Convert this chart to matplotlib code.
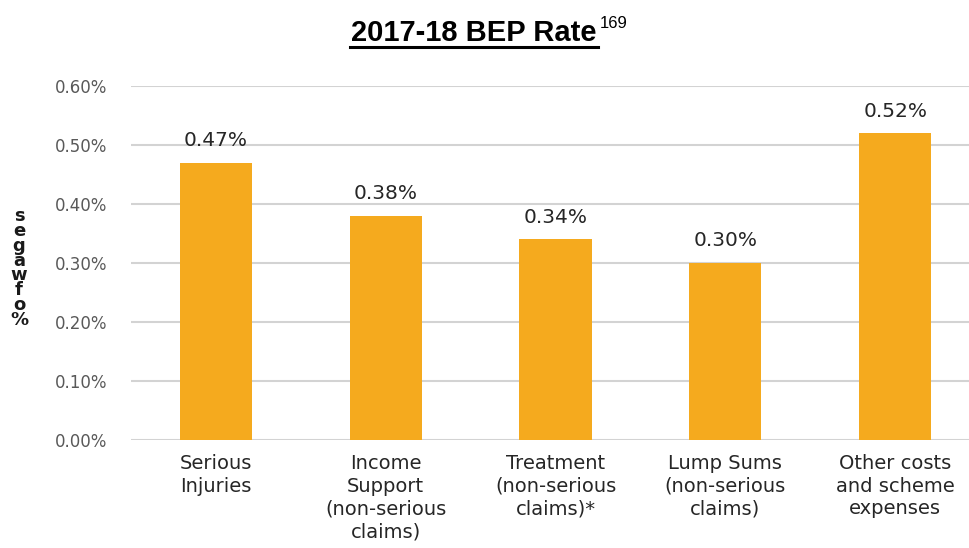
import matplotlib
matplotlib.use("Agg")
import matplotlib.pyplot as plt
from matplotlib.ticker import FuncFormatter

# data
categories = ["Serious\nInjuries",
              "Income\nSupport\n(non-serious\nclaims)",
              "Treatment\n(non-serious\nclaims)*",
              "Lump Sums\n(non-serious\nclaims)",
              "Other costs\nand scheme\nexpenses"]
rates = [0.47, 0.38, 0.34, 0.30, 0.52]
value_labels = ["0.47%", "0.38%", "0.34%", "0.30%", "0.52%"]
yticks = [0.0, 0.1, 0.2, 0.3, 0.4, 0.5, 0.6]

bar_color = "#F5AA1E"
grid_color = "#D3D3D3"
tick_color = "#595959"

fig = plt.figure(figsize=(9.69, 5.48), dpi=100, facecolor="white")
ax = fig.add_axes([131/969, 1 - 440/548, 838/969, 354/548])

x = list(range(len(categories)))
bars = ax.bar(x, rates, width=0.425, color=bar_color, zorder=3)

# value labels above bars
for b, lab in zip(bars, value_labels):
    ax.annotate(lab, (b.get_x() + b.get_width()/2, b.get_height()),
                xytext=(0, 9), textcoords="offset points",
                ha="center", va="bottom", fontsize=14.5, color="#262626")

ax.set_xlim(-0.5, 4.435)
ax.set_ylim(0, 0.6)
ax.set_yticks(yticks)
ax.yaxis.set_major_formatter(FuncFormatter(lambda v, p: "%.2f%%" % v))
ax.set_xticks(x)
ax.set_xticklabels(categories, fontsize=14, color="#262626", linespacing=1.25)
ax.tick_params(axis="y", length=0, pad=17, labelsize=12, labelcolor=tick_color)
ax.tick_params(axis="x", length=0, pad=10)

ax.grid(axis="y", color=grid_color, linewidth=1.5, zorder=0)
for s in ax.spines.values():
    s.set_visible(False)

# title with underline and superscript
fig.text(474/969, 1 - 41/548, "2017-18 BEP Rate", ha="center", va="baseline",
         fontsize=21, fontweight="bold", family="Liberation Sans")
fig.add_artist(plt.Line2D([350/969, 598/969], [1 - 47/548, 1 - 47/548],
                          color="black", linewidth=2.2))
fig.text(600/969, 1 - 28/548, "169", ha="left", va="baseline",
         fontsize=12, family="Liberation Sans")

# odd stacked y-axis label ("% of wages" reversed, one char per line)
fig.text(19/969, 1 - 268/548, "s\ne\ng\na\nw\nf\no\n%", ha="center",
         va="center", fontsize=13, fontweight="bold", color="#1a1a1a",
         linespacing=0.78)

fig.savefig("out.png", dpi=100)
